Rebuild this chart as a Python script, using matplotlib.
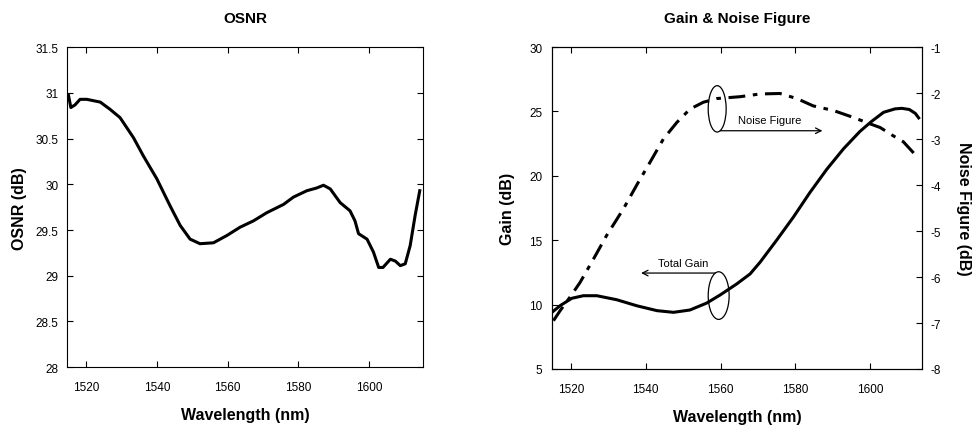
import numpy as np
import matplotlib
matplotlib.use("Agg")
from matplotlib import pyplot as plt
from matplotlib.patches import Ellipse

plt.rcParams['font.family'] = ['Liberation Sans', 'DejaVu Sans']
plt.rcParams['axes.unicode_minus'] = False

# OSNR data (wavelength nm, dB)
osnr_wl = [1515.0, 1515.7, 1516.9, 1518.3, 1520.2, 1524.0, 1526.8, 1529.6, 1533.4, 1536.2,
           1540.0, 1543.8, 1546.6, 1549.4, 1552.2, 1556.0, 1559.8, 1563.5, 1567.3, 1571.1,
           1575.8, 1578.6, 1582.4, 1585.2, 1587.1, 1589.0, 1591.8, 1594.6, 1596.0, 1597.0,
           1599.4, 1601.2, 1602.7, 1603.9, 1606.0, 1607.4, 1608.8, 1610.2, 1611.6, 1613.0, 1614.3]
osnr_db = [30.98, 30.84, 30.87, 30.93, 30.93, 30.90, 30.82, 30.73, 30.51, 30.31,
           30.06, 29.76, 29.55, 29.40, 29.35, 29.36, 29.44, 29.53, 29.60, 29.69,
           29.78, 29.86, 29.93, 29.96, 29.99, 29.95, 29.80, 29.71, 29.60, 29.46,
           29.40, 29.26, 29.09, 29.09, 29.18, 29.16, 29.11, 29.13, 29.33, 29.66, 29.93]

# Total gain (dB)
gain_wl = [1514.9, 1517.1, 1520.2, 1523.3, 1526.9, 1532.2, 1537.6, 1543.0, 1547.4, 1551.8,
           1556.3, 1559.9, 1564.3, 1567.9, 1570.6, 1575.0, 1579.5, 1583.9, 1588.4, 1592.9,
           1597.3, 1600.3, 1603.6, 1606.7, 1608.5, 1610.5, 1612.1, 1613.0]
gain_db = [9.4, 9.92, 10.49, 10.69, 10.69, 10.38, 9.91, 9.53, 9.40, 9.58,
           10.12, 10.75, 11.60, 12.38, 13.3, 15.0, 16.8, 18.7, 20.5, 22.1,
           23.45, 24.2, 24.93, 25.2, 25.24, 25.15, 24.85, 24.5]

# Noise figure (dB, right axis)
nf_wl = [1515.3, 1517.1, 1519.7, 1522.4, 1526.0, 1529.5, 1534.0, 1538.0, 1541.1, 1544.7,
         1548.3, 1551.8, 1555.4, 1559.0, 1565.2, 1570.6, 1575.9, 1580.4, 1584.8, 1590.2,
         1595.5, 1600.0, 1602.7, 1606.2, 1608.9, 1612.3]
nf_db = [-6.95, -6.73, -6.44, -6.12, -5.61, -5.10, -4.52, -3.94, -3.51, -3.0,
         -2.64, -2.35, -2.20, -2.12, -2.08, -2.02, -2.01, -2.12, -2.28, -2.38,
         -2.53, -2.67, -2.75, -2.93, -3.06, -3.36]

xticks = [1520, 1540, 1560, 1580, 1600]

fig = plt.figure(figsize=(9.79, 4.27), dpi=100)

# ---- left: OSNR
ax1 = fig.add_axes([0.0684, 0.138, 0.3636, 0.749])
ax1.plot(osnr_wl, osnr_db, color='black', lw=2.2)
ax1.set_xlim(1514.6, 1615.2)
ax1.set_ylim(28, 31.5)
ax1.set_xticks(xticks)
ax1.set_yticks([28, 28.5, 29, 29.5, 30, 30.5, 31, 31.5])
ax1.set_yticklabels(['28', '28.5', '29', '29.5', '30', '30.5', '31', '31.5'])
ax1.tick_params(direction='in', top=True, right=True, labelsize=8.5, length=4, pad=6)
ax1.tick_params(axis='x', pad=10)
ax1.set_xlabel('Wavelength (nm)', fontsize=11.5, fontweight='bold', labelpad=10)
ax1.set_ylabel('OSNR (dB)', fontsize=11.5, fontweight='bold', labelpad=6)
ax1.set_title('OSNR', fontsize=11, fontweight='bold', pad=18)

# ---- right: gain & noise figure
ax2 = fig.add_axes([0.5638, 0.1335, 0.378, 0.754])
ax2.plot(gain_wl, gain_db, color='black', lw=2.2)
ax2.set_xlim(1514.9, 1613.9)
ax2.set_ylim(5, 30)
ax2.set_xticks(xticks)
ax2.set_yticks([5, 10, 15, 20, 25, 30])
ax2.tick_params(direction='in', top=True, labelsize=8.5, length=4, pad=7)
ax2.tick_params(axis='x', pad=10)
ax2.set_xlabel('Wavelength (nm)', fontsize=11.5, fontweight='bold', labelpad=10)
ax2.set_ylabel('Gain (dB)', fontsize=11.5, fontweight='bold', labelpad=10)
ax2.set_title('Gain & Noise Figure', fontsize=11, fontweight='bold', pad=18)

ax3 = ax2.twinx()
ax3.plot(nf_wl, nf_db, color='black', lw=2.2, dashes=(5.5, 2.5, 1.5, 2.5))
ax3.set_ylim(-8, -1)
ax3.set_yticks([-8, -7, -6, -5, -4, -3, -2, -1])
ax3.tick_params(direction='in', labelsize=8.5, length=4, pad=6)
ax3.set_ylabel('Noise Figure (dB)', fontsize=11.5, fontweight='bold', rotation=270, labelpad=22)

# annotations
ax2.add_patch(Ellipse((1559.1, 25.2), 4.8, 3.6, fill=False, color='black', lw=0.9))
ax2.annotate('', xy=(1588, 23.5), xytext=(1559.2, 23.5),
             arrowprops=dict(arrowstyle='->', color='black', lw=0.9))
ax2.text(1573.2, 24.3, 'Noise Figure', fontsize=8, ha='center', va='center')

ax2.add_patch(Ellipse((1559.5, 10.7), 5.6, 3.7, fill=False, color='black', lw=0.9))
ax2.annotate('', xy=(1538, 12.45), xytext=(1559.3, 12.45),
             arrowprops=dict(arrowstyle='->', color='black', lw=0.9))
ax2.text(1550, 13.2, 'Total Gain', fontsize=8, ha='center', va='center')

fig.savefig('out.png', dpi=100)
